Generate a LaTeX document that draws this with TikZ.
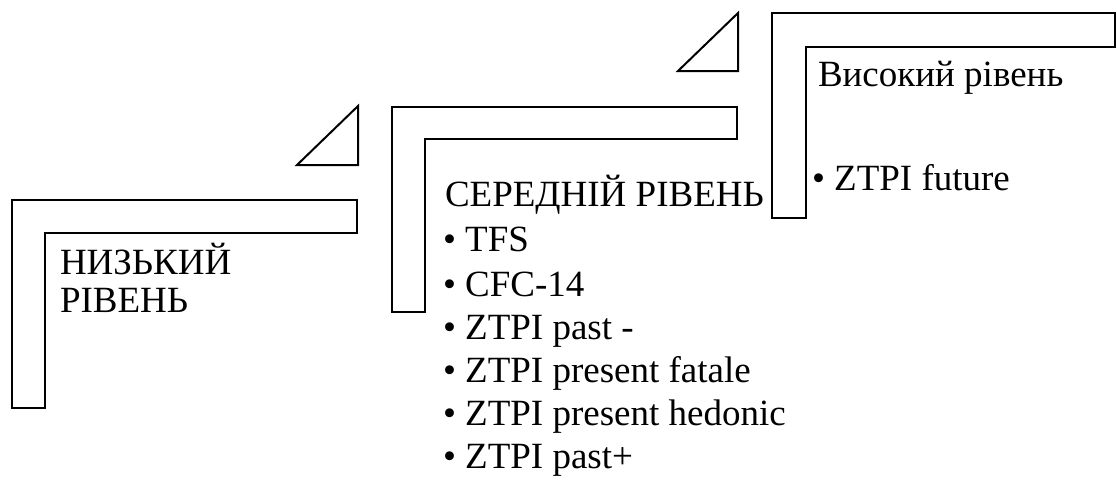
\documentclass[tikz,border=0pt]{standalone}
\usepackage{fontspec}
\setmainfont{Liberation Serif}
\begin{document}
\begin{tikzpicture}[x=1pt,y=-1pt,
  frame/.style={draw=black,line width=2pt,line join=miter,fill=white},
  label/.style={anchor=base west,inner sep=0pt,outer sep=0pt,font=\fontsize{37}{43}\selectfont}]
\useasboundingbox (0,0) rectangle (1117,480);
% low level
\draw[frame] (12,200) -- (357,200) -- (357,233) -- (45,233) -- (45,408) -- (12,408) -- cycle;
\draw[frame] (297,165) -- (358,165) -- (358,106) -- cycle;
% middle level
\draw[frame] (392,107) -- (737,107) -- (737,139) -- (425,139) -- (425,312) -- (392,312) -- cycle;
\draw[frame] (678,71) -- (738,71) -- (738,13) -- cycle;
% high level
\draw[frame] (772,13) -- (1115,13) -- (1115,47) -- (806,47) -- (806,218) -- (772,218) -- cycle;
% texts
\node[label] (low1) at (60,274) {НИЗЬКИЙ};
\node[label] (low2) at (60,312) {РІВЕНЬ};
\node[label] (midh) at (445,206) {СЕРЕДНІЙ РІВЕНЬ};
\node[label] (m1) at (443,251) {• TFS};
\node[label] (m2) at (443,296) {• CFC-14};
\node[label] (m3) at (443,339) {• ZTPI past -};
\node[label] (m4) at (443,382) {• ZTPI present fatale};
\node[label] (m5) at (443,425) {• ZTPI present hedonic};
\node[label] (m6) at (443,468) {• ZTPI past+};
\node[label] (highh) at (818,86) {Високий рівень};
\node[label] (h1) at (812,190) {• ZTPI future};
\end{tikzpicture}
\end{document}
